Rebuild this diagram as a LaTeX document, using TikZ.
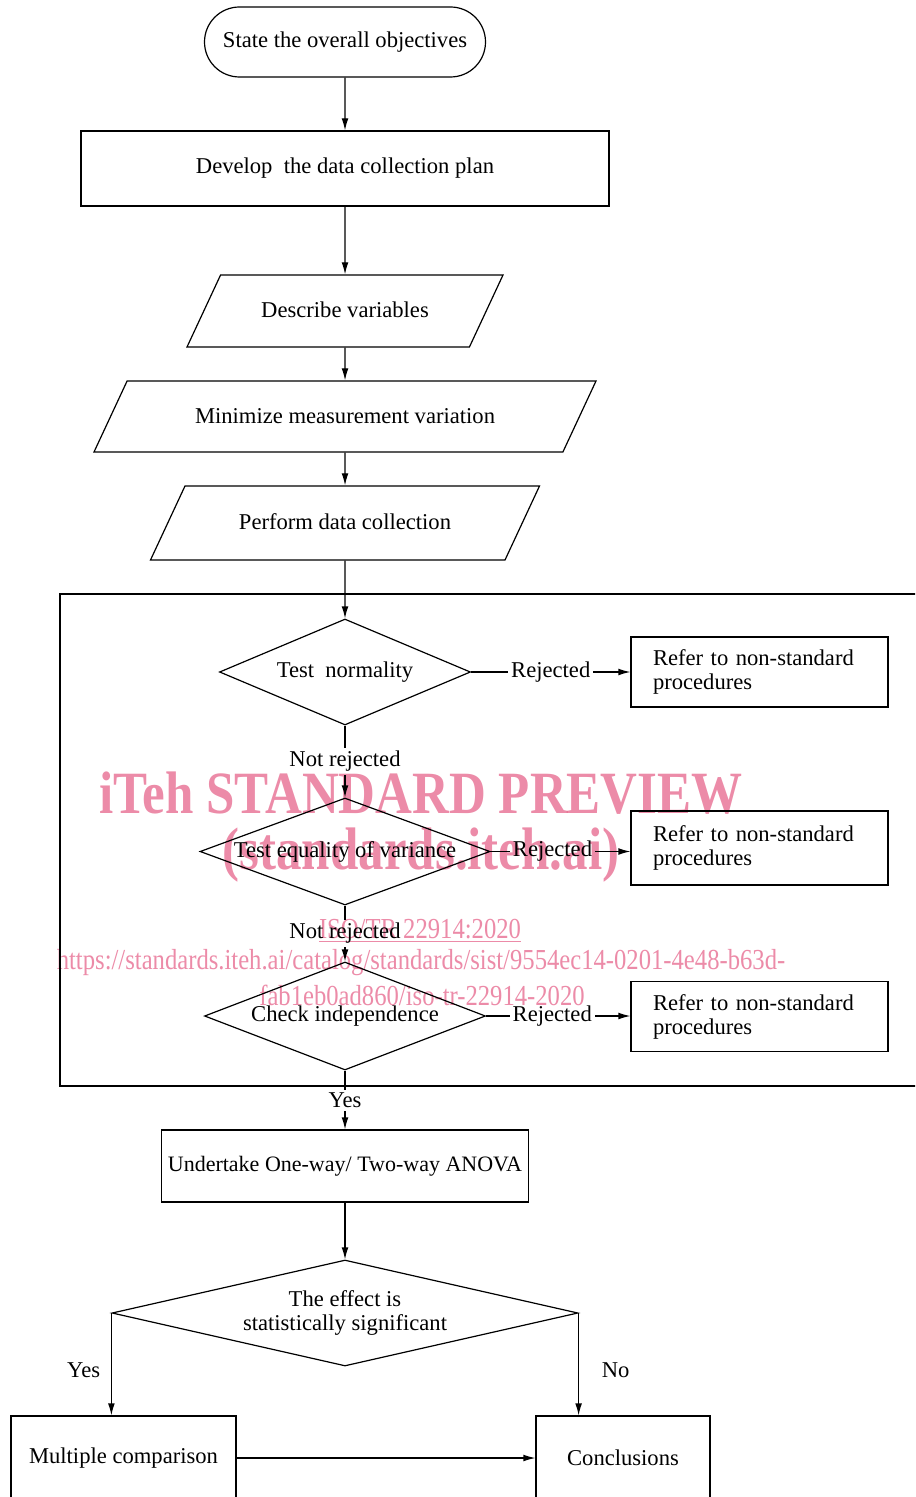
\documentclass[tikz,border=0pt]{standalone}
\usepackage{fontspec}
\setmainfont{Liberation Serif}
\newfontfamily\wmfont[FakeStretch=0.85]{Liberation Serif}
\usetikzlibrary{arrows.meta,shapes.geometric,shapes.misc,positioning,calc}
\definecolor{wmpink}{RGB}{236,139,168}

\tikzset{
  base/.style={draw, line width=0.6pt, inner sep=0pt, align=center},
  startbox/.style={base, rounded rectangle, minimum width=140.5pt, minimum height=35pt},
  stepbox/.style={base, rectangle},
  iobox/.style={base, trapezium, trapezium left angle=65, trapezium right angle=115,
    trapezium stretches body=true, text height=8pt, text depth=1.5pt},
  testbox/.style={base, diamond},
  refbox/.style={draw, line width=0.6pt, rectangle, align=left, text width=106.5pt, inner xsep=11pt, inner ysep=0pt, minimum height=35pt},
  lab/.style={fill=white, inner sep=1.5pt},
  flow/.style={line width=0.6pt, -{Latex[length=6pt,width=3.4pt]}},
  wmark/.style={text=wmpink, inner sep=0pt}
}

\begin{document}
\begin{tikzpicture}[x=0.5pt,y=0.5pt,yscale=-1,xscale=1,
  every node/.append style={font=\fontsize{11.3}{12}\selectfont}]
\useasboundingbox (0,0) rectangle (915,1497);
\clip (0,0) rectangle (915,1497);

%Shape: Rectangle (frame round the three tests)
\draw [line width=0.6pt] (60,594) rectangle (940,1086) ;

%Flow nodes
\node [startbox] (start) at (345,42) {State the overall objectives};
\node [stepbox, minimum width=264pt, minimum height=37.5pt] (develop) at (345,168.5) {Develop~ the data collection plan};
\node [iobox, inner ysep=13.25pt, minimum width=158pt] (describe) at (345,311) {Describe variables};
\node [iobox, inner ysep=13pt, minimum width=251pt] (minimize) at (345,416.5) {Minimize measurement variation};
\node [iobox, inner ysep=13.75pt, minimum width=194.5pt] (perform) at (345,523) {Perform data collection};

%Tests
\node [testbox, aspect=2.37, minimum width=125.5pt, minimum height=53pt] (normal) at (345,672) {Test~ normality};
\node [testbox, aspect=2.71, minimum width=145pt, minimum height=53.5pt] (equal) at (345,851.5) {Test equality of variance};
\node [testbox, aspect=2.6, minimum width=140.5pt, minimum height=54pt] (indep) at (345,1016) {Check independence};

\node [refbox] (ref1) at (759.5,672) {Refer to non-standard procedures};
\node [refbox, minimum height=37pt] (ref2) at (759.5,848) {Refer to non-standard procedures};
\node [refbox] (ref3) at (759.5,1016.5) {Refer to non-standard procedures};

\node [stepbox, minimum width=183.5pt, minimum height=36pt, font=\fontsize{11}{12}\selectfont] (anova) at (345,1166) {Undertake One-way/ Two-way ANOVA};
\node [testbox, aspect=4.4, minimum width=233pt, minimum height=53pt] (effect) at (345,1313) {The effect is\\statistically significant};
\node [stepbox, minimum width=112.5pt, minimum height=42pt] (multi) at (123.5,1458) {Multiple comparison};
\node [stepbox, minimum width=87pt, minimum height=42pt] (concl) at (623,1458) {Conclusions};

%Connectors
\draw [flow] (start) -- (develop);
\draw [flow] (develop) -- (describe);
\draw [flow] (describe) -- (minimize);
\draw [flow] (minimize) -- (perform);
\draw [flow] (perform) -- (normal);
\draw [flow] (normal.east) -- node[lab] {Rejected} (normal.east -| ref1.west);
\draw [flow] (normal) -- node[lab] {Not rejected} (equal);
\draw [flow] (equal.east) -- node[lab, xshift=-4pt] {Rejected} (equal.east -| ref2.west);
\draw [flow] (equal) -- node[lab] {Not rejected} (indep);
\draw [flow] (indep.east) -- node[lab, xshift=-3pt] {Rejected} (indep.east -| ref3.west);
\draw [flow] (indep) -- node[lab] {Yes} (anova);
\draw [flow] (anova) -- (effect);
\draw [flow] (effect.west) -- node[left=2pt, yshift=-3pt] {Yes} (effect.west |- multi.north);
\draw [flow] (effect.east) -- node[right=8pt, yshift=-3pt] {No} (effect.east |- concl.north);
\draw [flow] (multi) -- (concl);

%Watermark
\begin{scope}[blend mode=multiply]
\node [wmark, font=\wmfont\bfseries\fontsize{30}{30}\selectfont] (wm1) at (421,793) {iTeh STANDARD PREVIEW};
\node [wmark, font=\wmfont\bfseries\fontsize{30}{30}\selectfont] (wm2) at (421,855) {(standards.iteh.ai)};
\node [wmark, font=\wmfont\fontsize{14.5}{14.5}\selectfont] (wm3) at (420,931) {\underline{ISO/TR 22914:2020}};
\node [wmark, font=\wmfont\fontsize{14.5}{14.5}\selectfont] (wm4) at (421,963) {https://standards.iteh.ai/catalog/standards/sist/9554ec14-0201-4e48-b63d-};
\node [wmark, font=\wmfont\fontsize{14.5}{14.5}\selectfont] (wm5) at (422,995) {fab1eb0ad860/iso-tr-22914-2020};
\end{scope}

\end{tikzpicture}
\end{document}
